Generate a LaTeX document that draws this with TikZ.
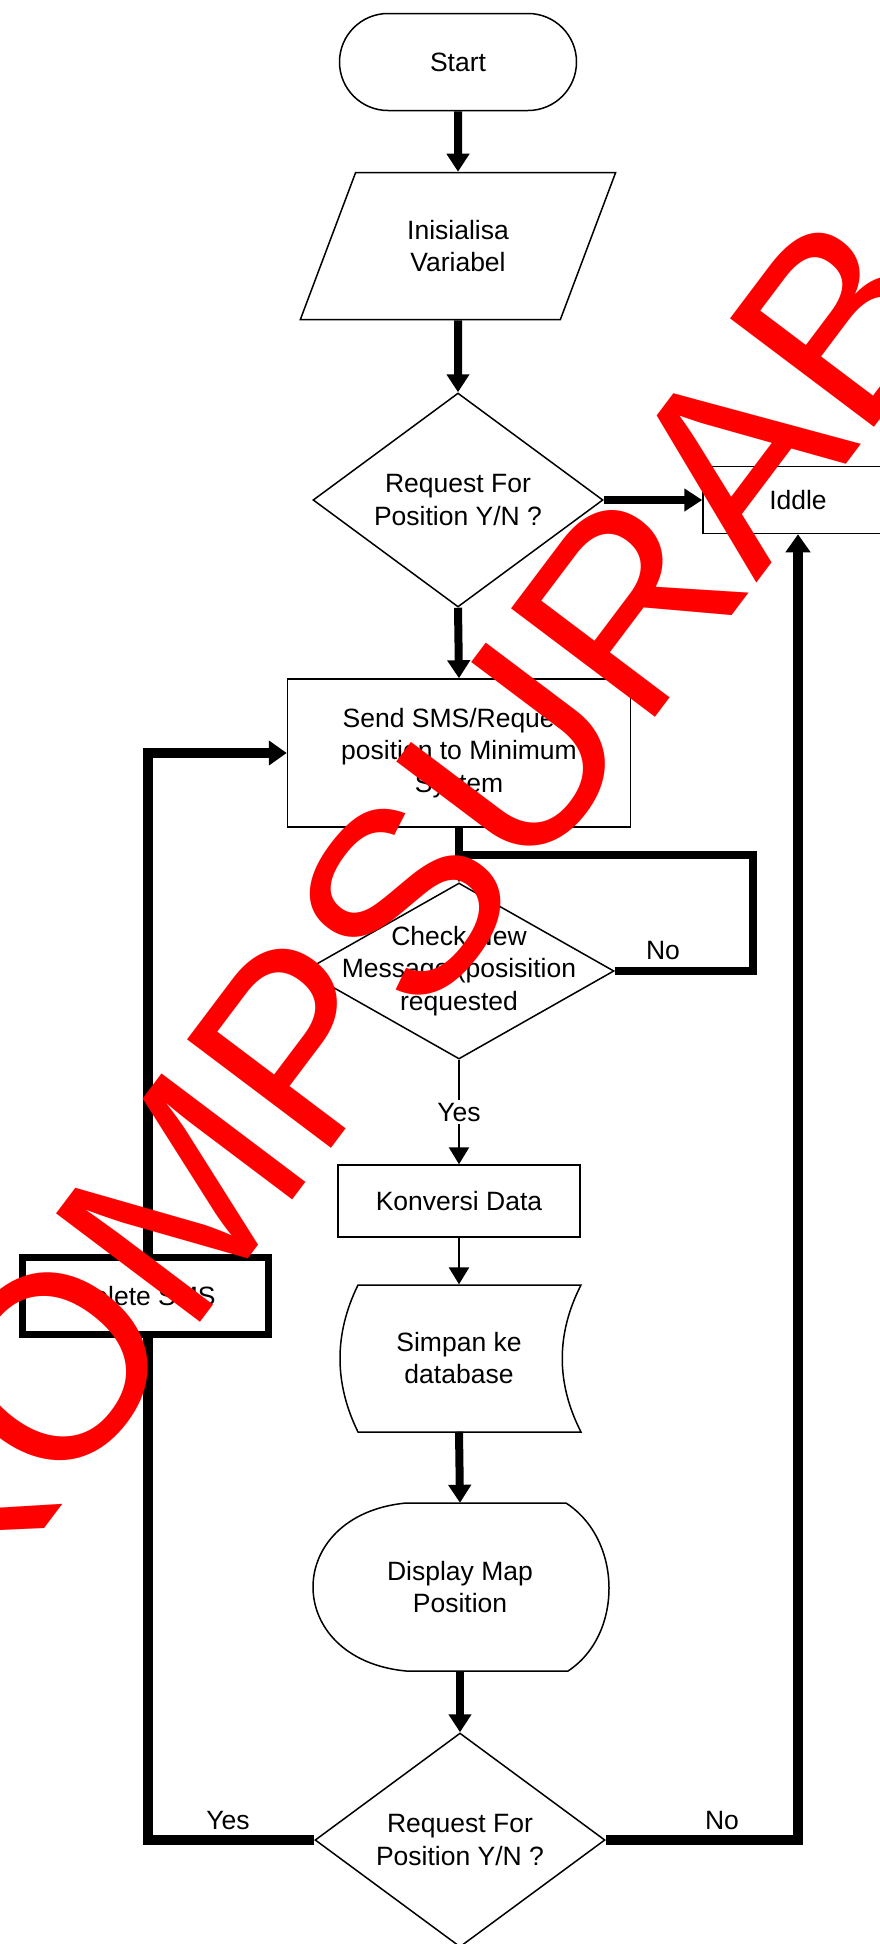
\documentclass[tikz,border=0pt]{standalone}
\usepackage{fontspec}
\setmainfont{Liberation Sans}
\usepackage{tikz}
\usetikzlibrary{arrows.meta,positioning,calc,shapes.geometric,shapes.misc}
\definecolor{ink}{RGB}{0,0,0}
\definecolor{stampred}{RGB}{255,0,0}
\newcommand{\chartfont}{\fontsize{26.5}{32.5}\selectfont}
\newcommand{\stampfont}{\fontsize{262}{262}\selectfont}
\tikzset{
  shapeline/.style={draw=ink, line width=1.5pt, align=center, font=\chartfont, inner sep=2pt},
  termbox/.style={shapeline, rounded rectangle, minimum width=241pt, minimum height=97pt},
  iobox/.style={shapeline, trapezium, trapezium left angle=63, trapezium right angle=117,
    trapezium stretches=true, minimum width=316pt, minimum height=147pt},
  procbox/.style={shapeline, rectangle},
  decision/.style={shapeline, diamond, minimum width=290pt, minimum height=214pt},
  textonly/.style={align=center, font=\chartfont, inner sep=0pt},
  flowlabel/.style={font=\chartfont, inner sep=3pt},
  flowline/.style={line width=8pt},
  flow/.style={-{Triangle[length=18pt,width=22pt]}, line width=8pt},
  thinflow/.style={-{Triangle[length=17pt,width=20pt]}, line width=2.5pt},
  backflow/.style={-{Triangle[length=18pt,width=24pt]}, line width=10pt},
  stamp/.style={text=stampred, font=\stampfont, inner sep=0pt}
}

\begin{document}
\begin{tikzpicture}[x=1pt, y=-1pt]
\useasboundingbox (0,0) rectangle (880,1944);

\node[termbox] (start) at (458,62) {Start};
\node[iobox] (init) at (458,246) {Inisialisa\\Variabel};
\node[decision, label={[textonly]center:{Request For\\Position Y/N ?}}] (req1) at (458,500) {};
\node[procbox, minimum width=190pt, minimum height=67pt] (iddle) at (798,500) {Iddle};
\node[procbox, minimum width=343pt, minimum height=148pt] (send) at (459,753)
  {Send SMS/Request\\position to Minimum\\System};
\node[decision, minimum width=310pt, minimum height=176pt,
  label={[textonly]center:{Check New\\Message (posisition\\requested}}] (check) at (459,971) {};
\node[procbox, minimum width=242pt, minimum height=72pt] (konv) at (459,1201) {Konversi Data};
\node[textonly, minimum width=200pt, minimum height=147pt] (simpan) at (459,1358) {Simpan ke\\database};
\node[textonly, minimum width=296pt, minimum height=168pt] (disp) at (460,1587) {Display Map\\Position};
\node[decision, label={[textonly]center:{Request For\\Position Y/N ?}}] (req2) at (460,1840) {};

% stored data and display outlines
\draw[line width=1.5pt] (358,1285) -- (581,1285) .. controls (556,1334) and (556,1383) .. (581,1432)
  -- (358,1432) .. controls (334,1383) and (334,1334) .. cycle;
\draw[line width=1.5pt] (406,1503) -- (566,1503) .. controls (623,1540) and (623,1635) .. (568,1671)
  -- (406,1671) .. controls (282,1659) and (282,1515) .. cycle;

\coordinate (nojoin) at (459,855);
\coordinate (noloop) at (753,855);
\coordinate (leftrail) at (148,1840);

\draw[flow] (start.south) -- (init.north);
\draw[flow] (init.south) -- (req1.north);
\draw[flow] (req1.east) -- (iddle.west);
\draw[flow] (req1.south) -- (send.north);
\draw[flowline] (check.east) -| (noloop) -- (nojoin);
\draw[flow] (send.south) -- (check.north);
\draw[thinflow] (check.south) -- node[flowlabel, fill=white] (yes1) {Yes} (konv.north);
\draw[thinflow] (konv.south) -- (simpan.north);
\draw[flow] (simpan.south) -- (disp.north);
\draw[flow] (disp.south) -- (req2.north);
\draw[backflow] (req2.west) -- (leftrail) |- (send.west);
\draw[backflow] (req2.east) -| (iddle.south);

\node[flowlabel] (no1) at (663,950) {No};
\node[flowlabel] (yes2) at (228,1820) {Yes};
\node[flowlabel] (no2) at (722,1820) {No};

\node[procbox, fill=white, line width=7pt, minimum width=246pt, minimum height=77pt] (delsms) at (145,1296) {Delete SMS};

\node[stamp, rotate=53] (wmark) at (391,919) {KOMPSURAB};
\end{tikzpicture}
\end{document}
